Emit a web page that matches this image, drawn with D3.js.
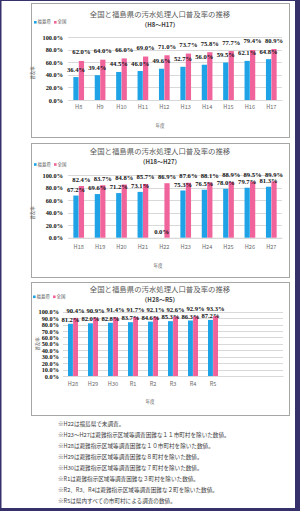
<!DOCTYPE html>
<html><head><meta charset="utf-8">
<script src="https://cdn.jsdelivr.net/npm/d3@7"></script>
<style>html,body{margin:0;padding:0;background:#fff;overflow:hidden}svg{display:block}</style>
</head><body><svg id="c" width="300" height="511"></svg>
<script>
// ---------- data ----------
const years1 = ["H8","H9","H10","H11","H12","H13","H14","H15","H16","H17"];
const fukushima1 = [36.4,39.4,44.5,46.0,49.6,52.7,56.0,59.5,62.1,64.8];
const national1 = [62.0,64.0,66.0,69.0,71.0,73.7,75.8,77.7,79.4,80.9];

const years2 = ["H18","H19","H20","H21","H22","H23","H24","H25","H26","H27"];
const fukushima2 = [67.2,69.6,71.2,73.1,0.0,75.3,76.5,78.0,79.7,81.3];
const national2 = [82.4,83.7,84.8,85.7,86.9,87.6,88.1,88.9,89.5,89.9];

const years3 = ["H28","H29","H30","R1","R2","R3","R4","R5"];
const fukushima3 = [81.2,82.0,82.8,83.7,84.6,85.3,86.3,87.2];
const national3 = [90.4,90.9,91.4,91.7,92.1,92.6,92.9,93.3];

const yTicks20 = [0,20,40,60,80,100];
const yTicks10 = [0,10,20,30,40,50,60,70,80,90,100];
const seriesNames = ["福島県","全国"];
const mainTitle = "全国と福島県の汚水処理人口普及率の推移";
const subtitles = ["（H8～H17）","（H18～H27）","（H28～R5）"];
const xAxisTitle = "年度";
const yAxisTitle = "普及率";
const notes = [
  "※H22は福島県で未調査。",
  "※H23～H27は避難指示区域等調査困難な１１市町村を除いた数値。",
  "※H28は避難指示区域等調査困難な１０市町村を除いた数値。",
  "※H29は避難指示区域等調査困難な８町村を除いた数値。",
  "※H30は避難指示区域等調査困難な７町村を除いた数値。",
  "※R1は避難指示区域等調査困難な３町村を除いた数値。",
  "※R2、R3、R4は避難指示区域等調査困難な２町を除いた数値。",
  "※R5は県内すべての市町村による調査の数値。"
];

// ---------- styles ----------
const BLUE = "#1fa3e6", PINK = "#f0639b";
const JP = "'Noto Sans CJK JP','Noto Sans',sans-serif";
const SERIF = "'Liberation Serif','DejaVu Serif',serif";

const svg = d3.select("#c");
svg.append("rect").attr("width",300).attr("height",511).attr("fill","#fff");

function drawChart(cfg){
  const g = svg.append("g");
  g.append("rect").attr("x",cfg.box[0]+0.5).attr("y",cfg.box[1]+0.5)
    .attr("width",cfg.box[2]-cfg.box[0]).attr("height",cfg.box[3]-cfg.box[1])
    .attr("fill","#fff").attr("stroke","#a6a6a6").attr("stroke-width",1);

  const slots = d3.range(cfg.slots);
  const x = d3.scaleBand().domain(slots).range(cfg.xRange).paddingInner(0.48).paddingOuter(0.24);
  const x1 = d3.scaleBand().domain([0,1]).range([0,x.bandwidth()]).padding(0.04);
  const y = d3.scaleLinear().domain([0,100]).range([cfg.y0,cfg.y100]);

  g.append("g").attr("transform",`translate(${cfg.xRange[0]},0)`)
    .call(d3.axisLeft(y).tickValues(cfg.ticks).tickSize(-(cfg.xRange[1]-cfg.xRange[0])).tickFormat(""))
    .call(s=>s.select(".domain").remove())
    .call(s=>s.selectAll("line").attr("stroke","#d9d9d9").attr("shape-rendering","crispEdges"));

  g.append("g").attr("transform",`translate(${cfg.xRange[0]},0)`)
    .call(d3.axisLeft(y).tickValues(cfg.ticks).tickSize(0).tickPadding(cfg.tickPad).tickFormat(d=>d.toFixed(1)+"%"))
    .call(s=>s.select(".domain").remove())
    .call(s=>s.selectAll("text").attr("font-family",SERIF).attr("font-weight","bold")
      .attr("font-size",6.3).attr("fill","#111"));

  g.append("g").attr("transform",`translate(0,${cfg.y0})`)
    .call(d3.axisBottom(x).tickSize(0).tickPadding(cfg.xPad).tickFormat(i=>cfg.years[i]||""))
    .call(s=>s.select(".domain").attr("stroke","#d9d9d9"))
    .call(s=>s.selectAll("text").attr("font-family",JP).attr("font-size",5.6).attr("fill","#6b6b6b"));

  const rows = cfg.years.map((yr,i)=>({i, vals:[cfg.fuku[i], cfg.nat[i]]}));
  const colors = [BLUE,PINK];
  rows.forEach(r=>{
    r.vals.forEach((v,k)=>{
      g.append("rect").attr("x",x(r.i)+x1(k)).attr("width",x1.bandwidth())
        .attr("y",y(v)).attr("height",Math.max(0,y(0)-y(v))).attr("fill",colors[k]);
    });
  });
  rows.forEach(r=>{
    r.vals.forEach((v,k)=>{
      g.append("text").attr("x",x(r.i)+x1(k)+x1.bandwidth()/2).attr("y",y(v)-cfg.labelOff[k])
        .attr("text-anchor","middle").attr("dominant-baseline","middle")
        .attr("font-family",SERIF).attr("font-weight","bold").attr("font-size",6.6)
        .attr("fill","#111").text(v.toFixed(1)+"%");
    });
  });

  g.append("text").attr("x",160).attr("y",cfg.titleY).attr("text-anchor","middle")
    .attr("dominant-baseline","middle").attr("font-family",JP).attr("font-size",7.4)
    .attr("fill","#595959").text(mainTitle);
  g.append("text").attr("x",160).attr("y",cfg.subY).attr("text-anchor","middle")
    .attr("dominant-baseline","middle").attr("font-family",JP).attr("font-weight","bold")
    .attr("font-size",6).attr("fill","#404040").text(cfg.sub);

  const lg = g.append("g").attr("transform",`translate(${cfg.legend[0]},${cfg.legend[1]})`);
  seriesNames.forEach((n,k)=>{
    const ox = k*20;
    lg.append("rect").attr("x",ox).attr("y",-1.3).attr("width",2.6).attr("height",2.6).attr("fill",colors[k]);
    lg.append("text").attr("x",ox+3.6).attr("y",0).attr("dominant-baseline","middle")
      .attr("font-family",JP).attr("font-size",4.4).attr("fill","#595959").text(n);
  });

  g.append("text").attr("x",cfg.xTitle[0]).attr("y",cfg.xTitle[1]).attr("text-anchor","middle")
    .attr("dominant-baseline","middle").attr("font-family",JP).attr("font-size",4.6)
    .attr("fill","#595959").text(xAxisTitle);
  g.append("text").attr("transform",`translate(${cfg.yTitle[0]},${cfg.yTitle[1]}) rotate(-90)`)
    .attr("text-anchor","middle").attr("dominant-baseline","middle").attr("font-family",JP)
    .attr("font-size",4.4).attr("fill","#595959").text(yAxisTitle);
}

drawChart({box:[31,3,289,137], slots:10, xRange:[68,282], y0:100, y100:37, ticks:yTicks20, tickPad:5, xPad:5,
  years:years1, fuku:fukushima1, nat:national1, labelOff:[7,8],
  titleY:15, subY:25, sub:subtitles[0], legend:[34,22.3], xTitle:[160,126], yTitle:[33,73]});

drawChart({box:[31,143,289,277], slots:10, xRange:[68,282], y0:237.7, y100:175, ticks:yTicks20, tickPad:5, xPad:7,
  years:years2, fuku:fukushima2, nat:national2, labelOff:[5.5,6],
  titleY:152.3, subY:162.3, sub:subtitles[1], legend:[34,164.5], xTitle:[158,266], yTitle:[33,213]});

drawChart({box:[31,282,289,415], slots:11, xRange:[63,283], y0:376, y100:311.7, ticks:yTicks10, tickPad:4, xPad:6,
  years:years3, fuku:fukushima3, nat:national3, labelOff:[3.5,6.3],
  titleY:289.5, subY:300, sub:subtitles[2], legend:[33,296.8], xTitle:[150,401.7], yTitle:[38,344]});

svg.append("g").selectAll("text").data(notes).join("text")
  .attr("x",58).attr("y",(d,i)=>424+i*11).attr("dominant-baseline","middle")
  .attr("font-family",JP).attr("font-size",5.6).attr("fill","#404040").text(d=>d);

const FRAME = "#36316b";
svg.append("rect").attr("x",0).attr("y",0).attr("width",300).attr("height",1).attr("fill",FRAME);
svg.append("rect").attr("x",0).attr("y",0).attr("width",1.5).attr("height",511).attr("fill",FRAME);
svg.append("rect").attr("x",295).attr("y",0).attr("width",5).attr("height",511).attr("fill",FRAME);
svg.append("rect").attr("x",0).attr("y",508).attr("width",300).attr("height",3).attr("fill",FRAME);
</script></body></html>
